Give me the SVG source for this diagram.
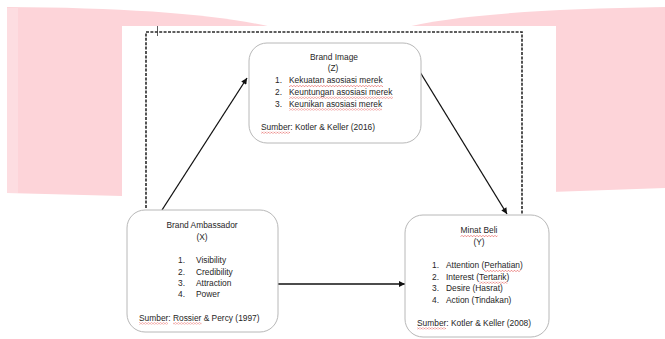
<svg xmlns="http://www.w3.org/2000/svg" width="665" height="339" viewBox="0 0 665 339">
  <style>
    .t { font-family: "Liberation Sans", Arial, sans-serif; font-size: 8.4px; fill: #262626; }
    .c { text-anchor: middle; }
    .box { fill: #ffffff; stroke: #b8b8b8; stroke-width: 1; }
    .conn { stroke: #111111; stroke-width: 1.3; fill: none; }
    .frame { stroke: #2a2a2a; stroke-width: 1.6; fill: none; stroke-dasharray: 3 1.4; }
    .sq { fill: url(#squig); }
  </style>
  <defs>
    <pattern id="squig" width="3" height="2" patternUnits="userSpaceOnUse">
      <path d="M0,1.8 L1.5,0.2 L3,1.8" fill="none" stroke="#e0403a" stroke-width="0.6"/>
    </pattern>
    <marker id="arr" viewBox="0 0 10 10" refX="10" refY="5" markerWidth="7" markerHeight="6" markerUnits="userSpaceOnUse" orient="auto">
      <path d="M0,0 L10,5 L0,10 Z" fill="#111111"/>
    </marker>
  </defs>

  <!-- background -->
  <rect x="0" y="0" width="665" height="339" fill="#ffffff"/>
  <g id="watermark">
    <path d="M7,7 Q190,8 272,27 L272,200 L7,193 Z" fill="#fdd4d9"/>
    <rect x="7" y="8" width="11" height="185" fill="#fddde1"/>
    <path d="M403,28 Q470,10 665,7 L665,188 L403,197 Z" fill="#fdd4d9"/>
  </g>
  <rect id="page" x="122" y="26" width="434" height="313" fill="#ffffff"/>

  <g id="frame">
    <path class="frame" d="M146,208 L146,32 L522,32 L522,214"/>
    <line x1="157.5" y1="26" x2="157.5" y2="36" stroke="#333" stroke-width="0.8"/>
  </g>

  <g id="connectors">
    <line class="conn" x1="162" y1="210" x2="247" y2="78" marker-end="url(#arr)"/>
    <line class="conn" x1="420" y1="72" x2="507" y2="214" marker-end="url(#arr)"/>
    <line class="conn" x1="278" y1="284" x2="405" y2="284" marker-end="url(#arr)"/>
  </g>

  <g id="brand-image">
    <rect class="box" x="249" y="43" width="172" height="100" rx="18" ry="18"/>
    <text class="t c" x="334" y="60">Brand Image</text>
    <text class="t c" x="333" y="71">(Z)</text>
    <text class="t" x="275" y="83.3">1.</text>
    <text class="t" x="289" y="83.3">Kekuatan asosiasi merek</text>
    <text class="t" x="275" y="95">2.</text>
    <text class="t" x="289" y="95">Keuntungan asosiasi merek</text>
    <text class="t" x="275" y="106.7">3.</text>
    <text class="t" x="289" y="106.7">Keunikan asosiasi merek</text>
    <text class="t" x="261" y="130">Sumber: Kotler &amp; Keller (2016)</text>
    <rect class="sq" x="289" y="85" width="94" height="2"/>
    <rect class="sq" x="289" y="96.7" width="104" height="2"/>
    <rect class="sq" x="289" y="108.4" width="93" height="2"/>
    <rect class="sq" x="261" y="131.7" width="29" height="2"/>
  </g>

  <g id="brand-ambassador">
    <rect class="box" x="127" y="210" width="151" height="122" rx="18" ry="18"/>
    <text class="t c" x="202" y="228">Brand Ambassador</text>
    <text class="t c" x="202" y="240">(X)</text>
    <text class="t" x="178" y="263.3">1.</text>
    <text class="t" x="196" y="263.3">Visibility</text>
    <text class="t" x="178" y="274.7">2.</text>
    <text class="t" x="196" y="274.7">Credibility</text>
    <text class="t" x="178" y="286">3.</text>
    <text class="t" x="196" y="286">Attraction</text>
    <text class="t" x="178" y="297.3">4.</text>
    <text class="t" x="196" y="297.3">Power</text>
    <text class="t" x="139" y="320.7">Sumber: Rossier &amp; Percy (1997)</text>
    <rect class="sq" x="139" y="322.4" width="29" height="2"/>
    <rect class="sq" x="173" y="322.4" width="28.5" height="2"/>
  </g>

  <g id="minat-beli">
    <rect class="box" x="405" y="215" width="144" height="122" rx="18" ry="18"/>
    <text class="t c" x="479" y="233.3">Minat Beli</text>
    <text class="t c" x="479" y="245">(Y)</text>
    <text class="t" x="432" y="268.3">1.</text>
    <text class="t" x="446" y="268.3">Attention (Perhatian)</text>
    <text class="t" x="432" y="280">2.</text>
    <text class="t" x="446" y="280">Interest (Tertarik)</text>
    <text class="t" x="432" y="291.3">3.</text>
    <text class="t" x="446" y="291.3">Desire (Hasrat)</text>
    <text class="t" x="432" y="302.6">4.</text>
    <text class="t" x="446" y="302.6">Action (Tindakan)</text>
    <text class="t" x="417" y="325.7">Sumber: Kotler &amp; Keller (2008)</text>
    <rect class="sq" x="460.5" y="235" width="37" height="2"/>
    <rect class="sq" x="484" y="270" width="36.5" height="2"/>
    <rect class="sq" x="479" y="281.7" width="28.5" height="2"/>
    <rect class="sq" x="417" y="327.4" width="29" height="2"/>
  </g>
</svg>
